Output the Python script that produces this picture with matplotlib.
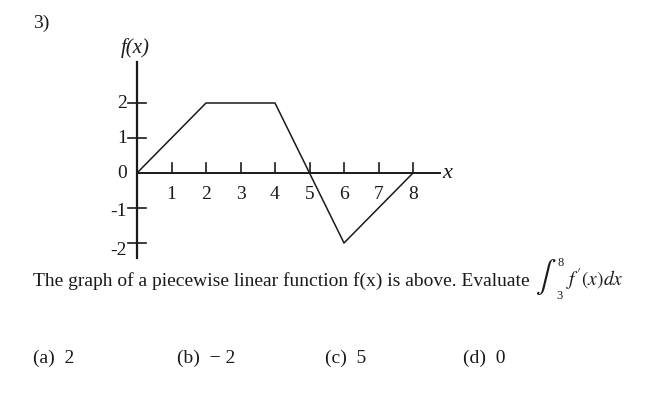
import matplotlib.pyplot as plt

# piecewise linear f(x)
x_pts = [0, 2, 4, 6, 8]
y_pts = [0, 2, 2, -2, 0]

x_ticks = [1, 2, 3, 4, 5, 6, 7, 8]
y_ticks = [-2, -1, 1, 2]
y_tick_labels = ['-2', '-1', '1', '2']

question = "The graph of a piecewise linear function f(x) is above. Evaluate"
choices = ['(a)  2', '(b)  \u2212 2', '(c)  5', '(d)  0']
choice_x = [33, 177, 325, 463]

W, H = 660, 408
fig = plt.figure(figsize=(W / 100, H / 100), dpi=100)
ax = fig.add_axes([0, 0, 1, 1])
ax.axis('off')

# pixel mapping: x=0 -> 137px, 34.5 px/unit ; y=0 -> 173px, 35 px/unit
x0, sx = 137, 34.5
y0, sy = 173, 35.0
ax.set_xlim(-x0 / sx, (W - x0) / sx)
ax.set_ylim((y0 - H) / sy, y0 / sy)

def fx(px):
    return px / W

def fy(py):
    return 1 - py / H

serif = 'Liberation Serif'
ink = '#1a1a1a'
plt.rcParams['mathtext.fontset'] = 'stix'

# axes lines
ax.plot([0, (440 - x0) / sx], [0, 0], color=ink, lw=1.4)
ax.plot([0, 0], [(y0 - 62) / sy, (y0 - 258) / sy], color=ink, lw=1.6)

# ticks
tick_up = 10 / sy
for t in x_ticks:
    ax.plot([t, t], [0, tick_up], color=ink, lw=1.2)
    ax.text(t, -0.62, str(t), ha='center', va='center', fontsize=14,
            family=serif, color=ink)
half = 9 / sx
for t, lbl in zip(y_ticks, y_tick_labels):
    ax.plot([-half, half], [t, t], color=ink, lw=1.2)
    dy = -0.22 if t == -2 else (-0.1 if t == -1 else 0)
    ax.text(-0.29, t + dy, lbl, ha='right', va='center', fontsize=14,
            family=serif, color=ink)
ax.text(-0.29, 0, '0', ha='right', va='center', fontsize=14,
        family=serif, color=ink)

# the function
ax.plot(x_pts, y_pts, color=ink, lw=1.1)

# axis names
ax.text(-0.06, (y0 - 48) / sy, 'f(x)', ha='center', va='center', fontsize=15,
        family=serif, style='italic', color=ink)
ax.text((447 - x0) / sx, 0, 'x', ha='center', va='center', fontsize=16,
        family=serif, style='italic', color=ink)

# question text
fig.text(fx(33), fy(23), '3)', ha='left', va='center', fontsize=14,
         family=serif, color=ink)
fig.text(fx(33), fy(281), question, ha='left', va='center', fontsize=14,
         family=serif, color=ink)

# integral written out piece by piece
fig.text(fx(535), fy(277), r'$\int$', ha='left', va='center', fontsize=22, color=ink)
fig.text(fx(558), fy(263), '8', ha='left', va='center', fontsize=9,
         family=serif, color=ink)
fig.text(fx(556), fy(296), '3', ha='left', va='center', fontsize=9,
         family=serif, color=ink)
fig.text(fx(566), fy(280), r"$f'(x)dx$", ha='left', va='center',
         fontsize=14, color=ink)

for cx, c in zip(choice_x, choices):
    fig.text(fx(cx), fy(358), c, ha='left', va='center', fontsize=14,
             family=serif, color=ink)

fig.savefig('out.png', dpi=100, facecolor='white')
